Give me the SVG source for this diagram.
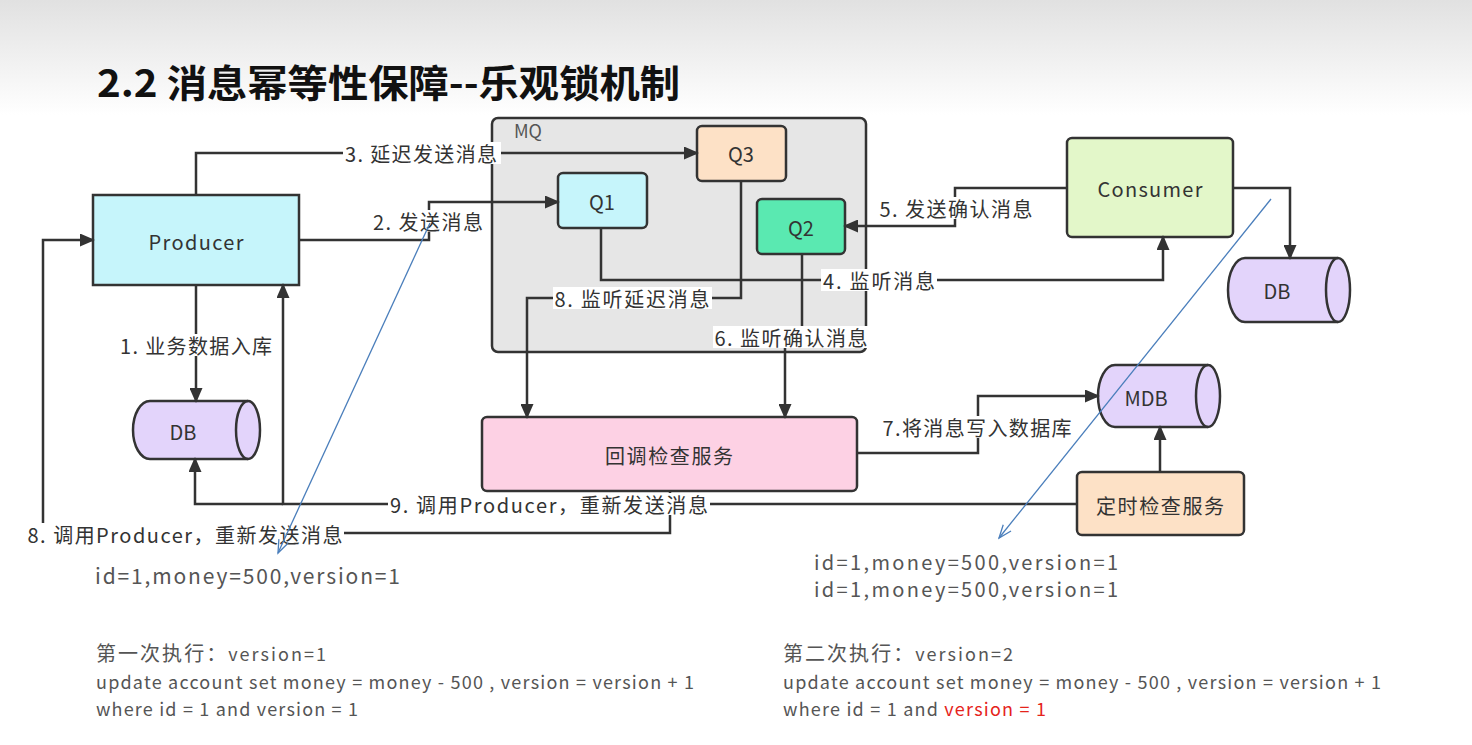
<svg xmlns="http://www.w3.org/2000/svg" width="1472" height="745" viewBox="0 0 1472 745">
<defs>
<linearGradient id="bg" x1="0" y1="0" x2="0" y2="1">
<stop offset="0" stop-color="#e1e1e1"/><stop offset="1" stop-color="#ffffff"/>
</linearGradient>
<marker id="ah" markerWidth="15" markerHeight="13" refX="13" refY="6.5" orient="auto" markerUnits="userSpaceOnUse">
<path d="M0,0 L15,6.5 L0,13 Z" fill="#333"/>
</marker>
<marker id="bh" markerWidth="16" markerHeight="12" refX="14" refY="6" orient="auto" markerUnits="userSpaceOnUse">
<path d="M1,1 L14,6 L1,11" fill="none" stroke="#4a7ebb" stroke-width="1.3"/>
</marker>
<style>
.n{stroke:#333;stroke-width:2.5}
.c{fill:none;stroke:#333;stroke-width:2.5}
.ar{marker-end:url(#ah)}
.t{font-family:"Noto Sans CJK SC","Noto Sans",sans-serif;fill:#333;text-anchor:middle;dominant-baseline:central}
.nt{font-size:20px}
.lt{font-size:20px}
.lb{fill:#ffffff}
.blue{fill:none;stroke:#4a7ebb;stroke-width:1.3;marker-end:url(#bh)}
.bt{font-family:"Noto Sans CJK SC","Noto Sans",sans-serif;fill:#555}
</style>
</defs>
<rect x="0" y="0" width="1472" height="745" fill="#ffffff"/>
<rect x="0" y="0" width="1472" height="115" fill="url(#bg)"/>
<text x="97" y="97" font-family="'Noto Sans CJK SC','Noto Sans',sans-serif" font-weight="bold" font-size="38" fill="#111" textLength="583" lengthAdjust="spacingAndGlyphs">2.2 消息幂等性保障--乐观锁机制</text>

<g id="mq">
<rect x="492" y="118" width="374" height="234" rx="6" fill="#e6e6e6" class="n"/>
<text x="528" y="130" class="t" font-size="18" style="fill:#555">MQ</text>
</g>
<g id="producer">
<rect x="93" y="195" width="206" height="90" fill="#c6f5fb" class="n"/>
<text x="196" y="241" class="t nt" textLength="95">Producer</text>
</g>
<g id="q3">
<rect x="697" y="126" width="89" height="55" rx="5" fill="#fde1c6" class="n"/>
<text x="741" y="153" class="t nt">Q3</text>
</g>
<g id="q1">
<rect x="558" y="173" width="89" height="55" rx="5" fill="#c6f5fb" class="n"/>
<text x="602" y="201" class="t nt">Q1</text>
</g>
<g id="q2">
<rect x="757" y="199" width="88" height="55" rx="5" fill="#5ae9b1" class="n"/>
<text x="801" y="227" class="t nt">Q2</text>
</g>
<g id="consumer">
<rect x="1067" y="138" width="166" height="99" rx="5" fill="#e3f7c9" class="n"/>
<text x="1150" y="188" class="t nt" textLength="105">Consumer</text>
</g>
<g id="db-left">
<path d="M150,401 H248 A12,29 0 0 1 248,459 H150 A17,29 0 0 1 150,401 Z" fill="#e3d4fb" class="n"/>
<path d="M248,401 A12,29 0 0 0 248,459" fill="none" class="n"/>
<text x="183" y="431" class="t nt">DB</text>
</g>
<g id="db-right">
<path d="M1245,258 H1338 A12,32 0 0 1 1338,322 H1245 A17,32 0 0 1 1245,258 Z" fill="#e3d4fb" class="n"/>
<path d="M1338,258 A12,32 0 0 0 1338,322" fill="none" class="n"/>
<text x="1277" y="290" class="t nt">DB</text>
</g>
<g id="mdb">
<path d="M1115,365 H1208 A12,31 0 0 1 1208,427 H1115 A17,31 0 0 1 1115,365 Z" fill="#e3d4fb" class="n"/>
<path d="M1208,365 A12,31 0 0 0 1208,427" fill="none" class="n"/>
<text x="1146" y="397" class="t nt">MDB</text>
</g>
<g id="callback">
<rect x="482" y="417" width="375" height="74" rx="5" fill="#fdd1e4" class="n"/>
<text x="669" y="455" class="t nt" textLength="128">回调检查服务</text>
</g>
<g id="timer">
<rect x="1077" y="472" width="167" height="63" rx="5" fill="#fde1c6" class="n"/>
<text x="1160" y="505" class="t nt" textLength="128">定时检查服务</text>
</g>

<g id="connectors">
<path class="c ar" d="M196,195 V153 H697"/>
<path class="c ar" d="M299,240 H429 V202 H558"/>
<path class="c ar" d="M601,228 V280 H1163 V237"/>
<path class="c ar" d="M1067,188 H955 V226 H845"/>
<path class="c ar" d="M1233,188 H1290 V258"/>
<path class="c ar" d="M802,254 V337 H785 V417"/>
<path class="c ar" d="M741,181 V298 H527 V417"/>
<path class="c ar" d="M857,453 H978 V396 H1098"/>
<path class="c ar" d="M1160,472 V427"/>
<path class="c ar" d="M1077,504 H283 V285"/>
<path class="c ar" d="M283,504 H195 V459"/>
<path class="c ar" d="M670,491 V533 H43 V240 H93"/>
<path class="c ar" d="M196,285 V401"/>

<rect class="lb" x="343" y="142" width="158" height="22"/>
<text x="421" y="153" class="t lt" textLength="152">3. 延迟发送消息</text>
<rect class="lb" x="371" y="210" width="114" height="22"/>
<text x="428" y="221" class="t lt" textLength="110">2. 发送消息</text>
<rect class="lb" x="821" y="269" width="116" height="22"/>
<text x="879" y="280" class="t lt" textLength="112">4. 监听消息</text>
<rect class="lb" x="878" y="197" width="157" height="22"/>
<text x="956" y="208" class="t lt" textLength="153">5. 发送确认消息</text>
<rect class="lb" x="553" y="287" width="159" height="22"/>
<text x="632" y="298" class="t lt" textLength="155">8. 监听延迟消息</text>
<rect class="lb" x="713" y="326" width="157" height="22"/>
<text x="791" y="337" class="t lt" textLength="153">6. 监听确认消息</text>
<rect class="lb" x="118" y="334" width="156" height="22"/>
<text x="196" y="345" class="t lt" textLength="152">1. 业务数据入库</text>
<rect class="lb" x="881" y="416" width="193" height="22"/>
<text x="977" y="427" class="t lt" textLength="189">7.将消息写入数据库</text>
<rect class="lb" x="388" y="493" width="322" height="22"/>
<text x="549" y="504" class="t lt" textLength="318">9. 调用Producer，重新发送消息</text>
<rect class="lb" x="25" y="523" width="319" height="22"/>
<text x="185" y="534" class="t lt" textLength="315">8. 调用Producer，重新发送消息</text>

<path class="blue" d="M430,223 L278,553"/>
<path class="blue" d="M1271,199 L999,538"/>
</g>

<g id="notes">
<text class="bt" x="95" y="584" font-size="21" textLength="305">id=1,money=500,version=1</text>
<text class="bt" x="814" y="570" font-size="20" textLength="304">id=1,money=500,version=1</text>
<text class="bt" x="814" y="597" font-size="20" textLength="304">id=1,money=500,version=1</text>
<text class="bt" x="96" y="661" font-size="20" textLength="230">第一次执行：<tspan font-size="18">version=1</tspan></text>
<text class="bt" x="96" y="689" font-size="18" textLength="598">update account set money = money - 500 , version = version + 1</text>
<text class="bt" x="96" y="716" font-size="18" textLength="262">where id = 1 and version = 1</text>
<text class="bt" x="783" y="661" font-size="20" textLength="230">第二次执行：<tspan font-size="18">version=2</tspan></text>
<text class="bt" x="783" y="689" font-size="18" textLength="598">update account set money = money - 500 , version = version + 1</text>
<text class="bt" x="783" y="716" font-size="18" textLength="263">where id = 1 and <tspan fill="#e5231b">version = 1</tspan></text>
</g>
</svg>
